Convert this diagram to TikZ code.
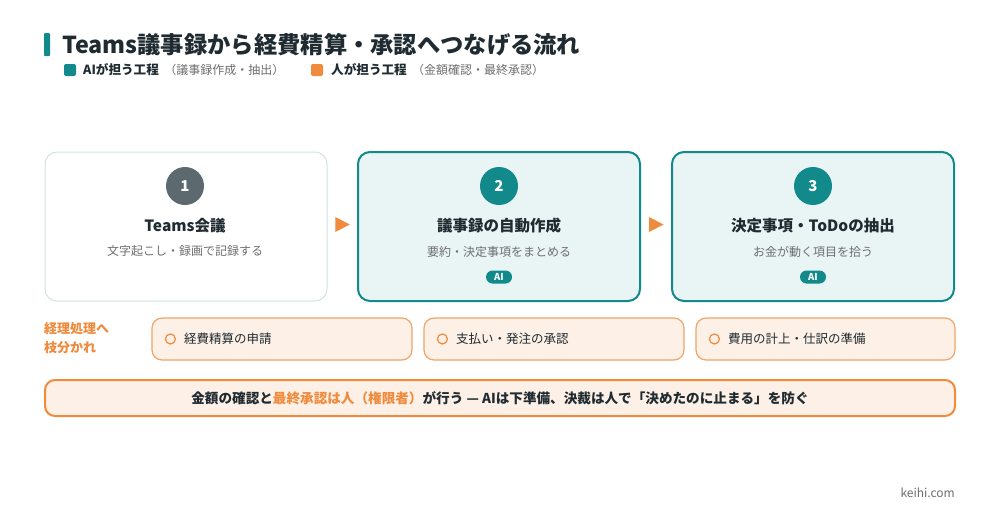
\documentclass[tikz,border=0pt]{standalone}
\usepackage{fontspec}
\setmainfont{Noto Sans CJK JP}
\usetikzlibrary{positioning,calc}

\definecolor{keiteal}{HTML}{12898B}
\definecolor{tealfill}{HTML}{E9F4F4}
\definecolor{cardline}{HTML}{D2E3E2}
\definecolor{numgray}{HTML}{5C6A6F}
\definecolor{keiorange}{HTML}{F08A3C}
\definecolor{peach}{HTML}{FDF0E6}
\definecolor{branchline}{HTML}{EFA56B}
\definecolor{darktext}{HTML}{1F2B31}
\definecolor{subgray}{HTML}{6E6E6E}

\tikzset{
  card/.style={draw=cardline, line width=1pt, fill=white, rounded corners=12pt,
    minimum width=282pt, minimum height=149pt},
  cardai/.style={card, draw=keiteal, line width=2pt, fill=tealfill},
  numdot/.style={circle, fill=keiteal, minimum size=38pt, inner sep=0pt, text=white,
    font=\fontsize{15}{15}\selectfont\bfseries},
  cardtitle/.style={inner sep=0pt, text=darktext, font=\fontsize{15.5}{18}\selectfont\bfseries},
  cardsub/.style={inner sep=0pt, text=subgray, font=\fontsize{12}{14}\selectfont},
  aipill/.style={fill=keiteal, rounded corners=6.5pt, minimum width=26pt, minimum height=13pt,
    inner sep=0pt, text=white, font=\fontsize{9.5}{10}\selectfont\bfseries},
  flowtip/.style={fill=keiorange},
  branchbox/.style={draw=branchline, line width=1.2pt, fill=peach, rounded corners=10pt,
    minimum width=260pt, minimum height=42pt},
  ringmark/.style={circle, draw=keiorange, line width=1.2pt, minimum size=10pt, inner sep=0pt},
  branchtext/.style={inner sep=0pt, text=darktext, font=\fontsize{12.5}{14}\selectfont},
  legendbox/.style={fill=#1, rounded corners=2pt, minimum size=12pt, inner sep=0pt},
  legendtext/.style={inner sep=0pt, text=darktext, font=\fontsize{12.6}{14}\selectfont\bfseries},
  legendnote/.style={inner sep=0pt, text=subgray, font=\fontsize{12}{14}\selectfont}
}

\begin{document}
\begin{tikzpicture}[x=1pt, y=-1pt]
        \useasboundingbox (0,0) rectangle (1000,523);
        \fill[white] (0,0) rectangle (1000,523);

        \fill[keiteal, rounded corners=1pt] (44,33) rectangle (50,56);
        \node[anchor=west, inner sep=0pt, text=darktext, font=\fontsize{23.3}{26}\selectfont\bfseries]
          (title) at (62,45) {Teams議事録から経費精算・承認へつなげる流れ};

        \node[legendbox=keiteal] (keyai) at (70,70) {};
        \node[legendtext, anchor=west] (legai) at (83,70) {AIが担う工程};
        \node[legendnote, right=5pt of legai] (legainote) {（議事録作成・抽出）};
        \node[legendbox=keiorange] (keyhuman) at (317,70) {};
        \node[legendtext, anchor=west] (leghuman) at (331,70) {人が担う工程};
        \node[legendnote, right=5pt of leghuman] (leghumannote) {（金額確認・最終承認）};

        \node[card] (b1) at (186,226.5) {};
        \node[cardai] (b2) at (499,226.5) {};
        \node[cardai] (b3) at (813,226.5) {};

        \node[numdot, fill=numgray] (n1) at (185,186) {1};
        \node[numdot] (n2) at (499,186) {2};
        \node[numdot] (n3) at (813,186) {3};

        \node[cardtitle] (t1) at (185,226) {Teams会議};
        \node[cardtitle] (t2) at (499,226) {議事録の自動作成};
        \node[cardtitle] (t3) at (813,226) {決定事項・ToDoの抽出};

        \node[cardsub] (d1) at (185,251) {文字起こし・録画で記録する};
        \node[cardsub] (d2) at (499,252) {要約・決定事項をまとめる};
        \node[cardsub] (d3) at (813,252) {お金が動く項目を拾う};

        \node[aipill] (ai2) at (499,277) {AI};
        \node[aipill] (ai3) at (813,277) {AI};

        \coordinate (arr1) at ($(b1.east)!0.5!(b2.west)+(0,-2)$);
        \coordinate (arr2) at ($(b2.east)!0.5!(b3.west)+(0,-2)$);
        \fill[flowtip] ($(arr1)+(-7,-7.5)$) -- ($(arr1)+(7.5,0)$) -- ($(arr1)+(-7,7.5)$) -- cycle;
        \fill[flowtip] ($(arr2)+(-7,-7.5)$) -- ($(arr2)+(7.5,0)$) -- ($(arr2)+(-7,7.5)$) -- cycle;

        \node[anchor=north west, inner sep=0pt, align=left, text=keiorange,
          font=\fontsize{13}{19}\selectfont\bfseries] (branch) at (44,322) {経理処理へ\\枝分かれ};

        \node[branchbox] (s1) at (282,339) {};
        \node[branchbox] (s2) at (554,339) {};
        \node[branchbox, minimum width=259pt] (s3) at (825.5,339) {};

        \node[ringmark] (r1) at ($(s1.west)+(19,0)$) {};
        \node[ringmark] (r2) at ($(s2.west)+(19,0)$) {};
        \node[ringmark] (r3) at ($(s3.west)+(19,0)$) {};
        \node[branchtext, right=8pt of r1] (bt1) {経費精算の申請};
        \node[branchtext, right=8pt of r2] (bt2) {支払い・発注の承認};
        \node[branchtext, right=8pt of r3] (bt3) {費用の計上・仕訳の準備};

        \node[draw=keiorange, line width=2pt, fill=peach, rounded corners=10pt,
          minimum width=910pt, minimum height=36pt, text=darktext,
          font=\fontsize{13.6}{16}\selectfont\bfseries] (note) at (500,398)
          {金額の確認と\textcolor{keiorange}{最終承認は人（権限者）}が行う — AIは下準備、決裁は人で「決めたのに止まる」を防ぐ};

        \node[anchor=east, inner sep=0pt, text=subgray, font=\fontsize{12}{14}\selectfont]
          (site) at (955,493) {keihi.com};
\end{tikzpicture}
\end{document}
